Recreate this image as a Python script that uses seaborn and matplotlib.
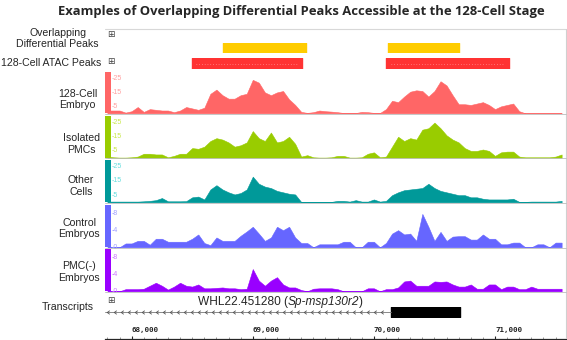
import numpy as np
import pandas as pd
import seaborn as sns
import matplotlib.pyplot as plt
from matplotlib.path import Path
from matplotlib.patches import Rectangle
from matplotlib.ticker import MultipleLocator
from matplotlib.transforms import blended_transform_factory

sns.set_style("white")
plt.rcParams['font.family'] = ['Liberation Sans', 'DejaVu Sans']

# genomic bins (bp), one value every 50 bp
pos = np.arange(67800, 71551, 50)

embryo_128 = [2, 2, 2, 0.5, 1.5, 4.5, 1, 3, 2.5, 2,
              2, 0.8, 2, 4.5, 3.5, 2.5, 4, 14, 17, 13,
              10.5, 10.5, 13, 14, 24, 22, 15, 13, 15, 16,
              10, 6, 1, 0.3, 0.8, 2, 1.5, 1.2, 0.8, 0.2,
              0.2, 0.2, 1, 0.8, 0.3, 0.2, 3, 9, 8, 12,
              15.5, 16.5, 16, 12, 16, 23, 20, 13, 6.5, 6.5,
              6, 7, 8, 6, 3, 5, 6, 7, 1.5, 0,
              0, 0, 0, 0, 0, 0]
isolated_pmc = [1, 0.5, 0.3, 0.3, 0.5, 1, 3, 3, 2.5, 2.5,
                0.5, 1.5, 3, 3, 7, 6.5, 8, 12, 14, 13,
                11, 8, 9, 11, 19, 14, 12, 18, 11, 12,
                15, 10, 1, 2, 0.5, 0.3, 0.3, 0.5, 1.5, 1.5,
                0.3, 0.3, 0.5, 3, 4, 0.5, 1, 8, 15, 12,
                14, 13, 20, 21, 25, 21, 16, 13, 11, 7,
                5, 5, 6, 5, 1.5, 4, 4.5, 4.5, 1, 0.5,
                0.5, 0.5, 0.5, 0.5, 1, 2.5]
other_cells = [0.5, 0.5, 0.5, 0.5, 0.5, 0.5, 0.7, 1, 1.5, 3,
               0.7, 0.7, 0.7, 0.8, 3.5, 4, 2, 9, 12, 9,
               7, 5.5, 6.5, 9, 18, 13, 11, 10, 8, 7,
               6, 5.5, 0.2, 0.2, 0.2, 0.2, 0.2, 0.3, 1, 1,
               0.5, 1.5, 0.5, 0.5, 2, 0.5, 1, 5, 7, 8.5,
               9, 9.5, 10, 13, 10, 8, 7, 6, 5, 5,
               3.5, 3.5, 2.5, 2, 2, 2, 2, 2.5, 0.3, 0.3,
               0.5, 0.5, 0.5, 0.5, 0.5, 1]
control_emb = [0, 0, 0, 0.9, 0.9, 1.5, 1.5, 0.6, 2, 2,
               1.3, 1.3, 1.3, 1.3, 2, 3, 1, 0.5, 2.3, 1.5,
               1.5, 1.5, 2.7, 3.7, 4.8, 3.2, 1.5, 2.3, 4.8, 4,
               4.8, 2.3, 1, 1, 0, 0.7, 0.7, 0.7, 0.7, 1.3,
               1.3, 0, 0, 1.3, 1.3, 0, 1, 3.2, 4, 3,
               3.2, 1.5, 7.8, 4.8, 1.5, 3.6, 1.5, 2.5, 2.6, 2.6,
               1.8, 1.8, 3, 2, 2, 0.7, 0.7, 1.1, 1.1, 0,
               0, 0.7, 0.7, 0, 1.1, 1.1]
pmc_minus = [0, 0, 0, 0.5, 0.5, 0.5, 0.6, 1.3, 2, 1.3,
             0.4, 1.1, 2, 1.3, 1.1, 1.6, 0.7, 0.7, 0.8, 0.9,
             0.7, 0.7, 0.5, 0.6, 5.2, 2.5, 1.3, 2.5, 3.3, 1.6,
             0.9, 0.9, 0.3, 0, 0.6, 0.7, 0.7, 0.7, 0.5, 0,
             0, 0, 0, 0.7, 0.7, 0, 0.5, 0.5, 0.9, 2.3,
             2.5, 1.3, 1.3, 1.3, 2.3, 2.2, 2.3, 1.6, 1.1, 1.1,
             1.6, 0.6, 0.6, 1.6, 1.6, 0.5, 1.1, 1.1, 0.5, 0.5,
             1.1, 0.6, 0.6, 0.6, 0.6, 0.6]

diff_peaks = [(68758, 69436), (70113, 70703)]
atac_peaks = [(68495, 69406), (70100, 71116)]
exon = (70139, 70712)
major_ticks = [68000, 69000, 70000, 71000]
gene_parts = [("WHL22.451280 (", "normal"), ("Sp-msp130r2", "italic"), (")", "normal")]

W, H = 567, 340
x_lo, x_hi = 67780, 71586
bin_range = (pos[0] - 25, pos[-1] + 25)


def box(x0, y0, x1, y1):
    return [x0 / W, 1 - y1 / H, (x1 - x0) / W, (y1 - y0) / H]


fig = plt.figure(figsize=(W / 100, H / 100), dpi=100)

# overlay in pixel coordinates for layout / text
ov = fig.add_axes([0, 0, 1, 1], zorder=5)
ov.set_xlim(0, W)
ov.set_ylim(H, 0)
ov.axis('off')
ov.patch.set_alpha(0)

# panel frame
ov.plot([105, 566], [28.5, 28.5], color='#d8d8d8', lw=0.8)
ov.plot([566, 566], [28.5, 338], color='#d0d0d0', lw=0.8)

title = ov.text(301, 12, "Examples of Overlapping Differential Peaks Accessible at the 128-Cell Stage",
                ha='center', va='center', fontsize=10, fontweight='bold', family='Open Sans')
fig.canvas.draw()
tw = title.get_window_extent().width
title.set_fontsize(10 * 486 / tw)

lab = dict(fontsize=7.6, ha='right', va='center', multialignment='center', linespacing=1.15)
ov.text(99, 38.5, "Overlapping\nDifferential Peaks", **lab)
ov.text(101, 63.5, "128-Cell ATAC Peaks", **lab)
ov.text(94, 307, "Transcripts", **lab)
for yy in [34.5, 62, 300.5]:
    ov.text(110.5, yy, "\u229e", family='DejaVu Sans', fontsize=6.5, ha='center', va='center', color='#444444')

# peak rows
ax_d = fig.add_axes(box(105, 42.7, 566, 52.7))
ax_d.broken_barh([(s, e - s) for s, e in diff_peaks], (0, 1), color='#ffcc00')
ax_a = fig.add_axes(box(105, 58.3, 566, 69.3))
ax_a.broken_barh([(s, e - s) for s, e in atac_peaks], (0, 1), color='#ff3333')
for s, e in atac_peaks:
    ax_a.hlines(0.5, s + 40, e - 40, colors='#ffb0b0', linestyles=(0, (1, 3)), lw=0.5)
for a in (ax_d, ax_a):
    a.set_xlim(x_lo, x_hi)
    a.set_ylim(0, 1)
    a.axis('off')

tracks = [
    ("128-Cell\nEmbryo", embryo_128, '#ff6666', '#ff9f9f', 30, [25, 15, 5], 71.5, 113.3, 97, 99.5),
    ("Isolated\nPMCs", isolated_pmc, '#99cc00', '#c8e84a', 30, [25, 15, 5], 115.5, 158, 100, 144),
    ("Other\nCells", other_cells, '#009999', '#66dede', 30, [25, 15, 5], 159.5, 202.3, 94, 186),
    ("Control\nEmbryos", control_emb, '#6666ff', '#a0a0ff', 10, [8, 4, 0], 204.5, 247.3, 100, 228.5),
    ("PMC(-)\nEmbryos", pmc_minus, '#9900ff', '#cc77ff', 10, [8, 4, 0], 248.5, 291.3, 100, 272),
]

for name, vals, col, lcol, ymax, yt, top, bot, lx, ly in tracks:
    ax = fig.add_axes(box(105, top, 566, bot))
    df = pd.DataFrame({'pos': pos, 'val': vals})
    sns.histplot(data=df, x='pos', weights='val', binwidth=50, binrange=bin_range,
                 element='poly', fill=True, color=col, alpha=1, linewidth=0.4, ax=ax)
    ax.set_xlim(x_lo, x_hi)
    ax.set_ylim(0, ymax)
    ax.axis('off')
    ax.add_patch(Rectangle((0, 0), 6 / 461, 1, transform=ax.transAxes, color=col, lw=0, zorder=4))
    tr = blended_transform_factory(ax.transAxes, ax.transData)
    for t in yt:
        ax.text(7 / 461, t, "-" + str(t), transform=tr, fontsize=5, color=lcol,
                ha='left', va='center', zorder=5)
    ov.plot([105, 566], [bot + 0.3, bot + 0.3], color='#bdbdbd', lw=0.6)
    ov.text(lx, ly, name, **lab)

# transcript
ax_t = fig.add_axes(box(105, 307, 566, 317))
chev = Path([(0.7, 1), (-0.7, 0), (0.7, -1)], [Path.MOVETO, Path.LINETO, Path.LINETO])
marks = np.arange(x_lo + 25, exon[0] - 20, 58)
ax_t.plot([x_lo, exon[0]], [0.5, 0.5], color='#777777', lw=0.6)
ax_t.plot(marks, np.full(len(marks), 0.5), ls='none', marker=chev, ms=2.6,
          mec='#555555', mfc='none', mew=0.6)
ax_t.broken_barh([(exon[0], exon[1] - exon[0])], (0, 1), color='black')
ax_t.set_xlim(x_lo, x_hi)
ax_t.set_ylim(0, 1)
ax_t.axis('off')

# gene name with italic part, centred on x=280.5
renderer = fig.canvas.get_renderer()
pieces = []
for txt, st in gene_parts:
    p = ov.text(0, 302, txt, fontsize=8.6, fontstyle=st, ha='left', va='center')
    pieces.append(p)
widths = [p.get_window_extent(renderer).width for p in pieces]
x0 = 280.5 - sum(widths) / 2
for p, w in zip(pieces, widths):
    p.set_x(x0)
    x0 += w

# coordinate axis
ax_x = fig.add_axes(box(105, 336.8, 566, 338.7))
ax_x.set_xlim(x_lo, x_hi)
ax_x.set_yticks([])
ax_x.patch.set_alpha(0)
for s in ['left', 'right', 'top']:
    ax_x.spines[s].set_visible(False)
ax_x.spines['bottom'].set_linewidth(0.9)
ax_x.set_xticks(major_ticks)
ax_x.set_xticklabels([f"{t:,}" for t in major_ticks], family='DejaVu Sans Mono', fontsize=5.4,
                     fontweight='bold', color='#222222')
ax_x.xaxis.set_minor_locator(MultipleLocator(100))
ax_x.tick_params(axis='x', which='major', bottom=True, top=False, labelbottom=False, labeltop=True,
                 direction='inout', length=4, width=0.8, pad=0.8)
ax_x.tick_params(axis='x', which='minor', bottom=True, top=False, direction='in', length=1.4,
                 width=0.6, color='#888888')
for lb in ax_x.get_xticklabels():
    lb.set_horizontalalignment('left')

fig.savefig("out.png", dpi=100)
